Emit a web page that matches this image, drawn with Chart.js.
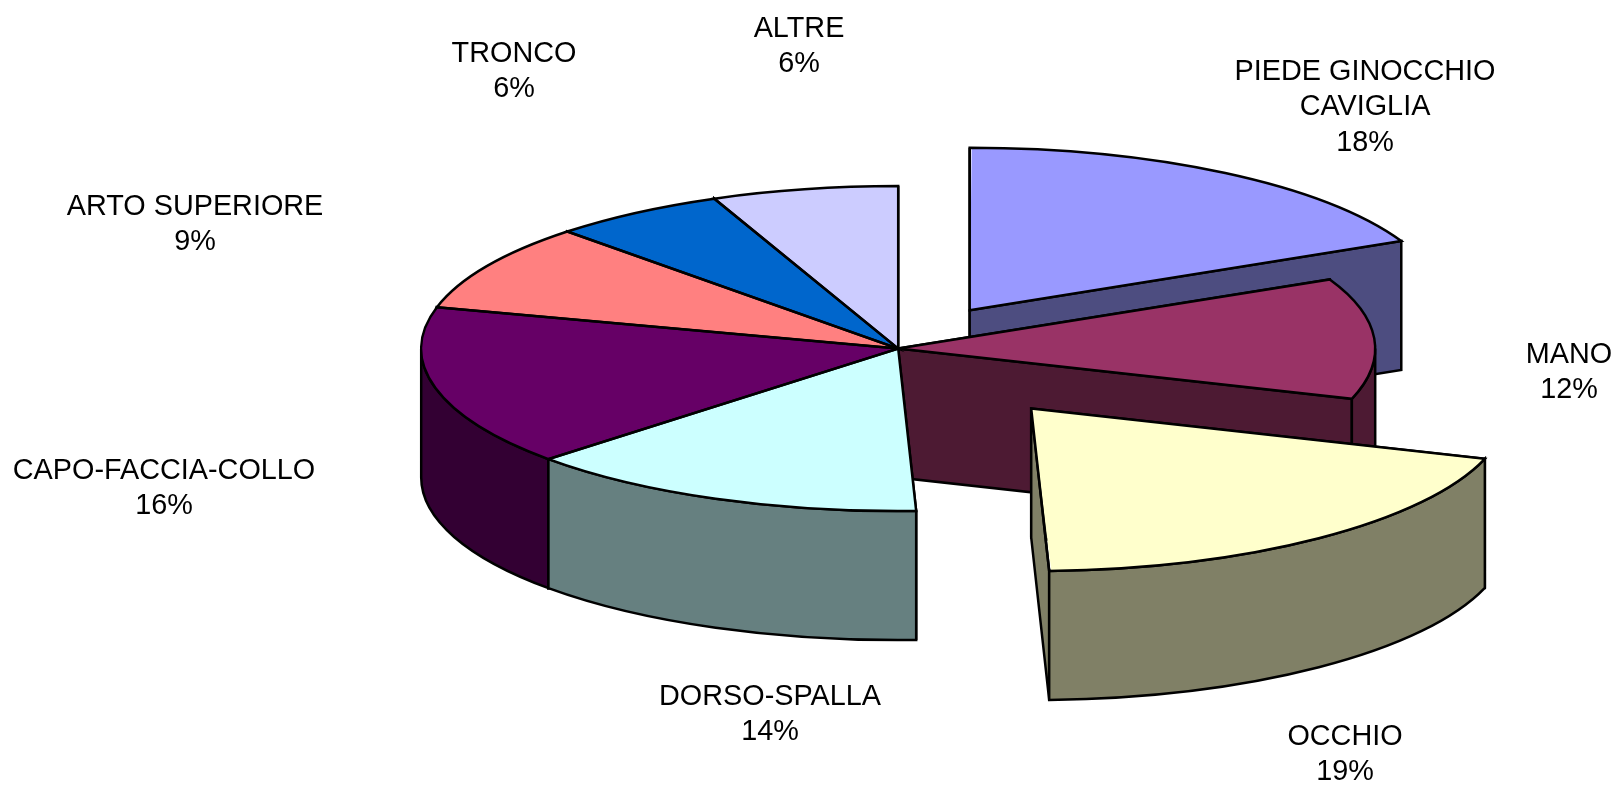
<!DOCTYPE html>
<html>
<head>
<meta charset="utf-8">
<style>html,body{margin:0;padding:0;background:#fff;overflow:hidden}canvas{display:block}</style>
<script src="https://cdn.jsdelivr.net/npm/chart.js@4"></script>
</head>
<body>
<canvas id="c" width="1617" height="795"></canvas>
<script>
// Data
const categories = [["PIEDE GINOCCHIO","CAVIGLIA"],["MANO"],["OCCHIO"],["DORSO-SPALLA"],["CAPO-FACCIA-COLLO"],["ARTO SUPERIORE"],["TRONCO"],["ALTRE"]];
const values = [18.0, 12.0, 19.4, 13.7, 16.0, 8.7, 5.9, 6.3];
// Styles
const topColors  = ["#9999FF","#993366","#FFFFCC","#CCFFFF","#660066","#FF8080","#0066CC","#CCCCFF"];
const sideColors = ["#4D4D80","#4D1A33","#808066","#668080","#330033","#804040","#003366","#666680"];
const explode = [231, 0, 382, 0, 0, 0, 0, 0];
const labelCenters = [[1365,72],[1569,355],[1345,737],[770,697],[164,471],[195,207],[514,54],[799,29]];
// Geometry of the tilted pie
const center = {x: 898.2, y: 348.6};
const radiusX = 477, tilt = 162.5/477, depth = 129;
const fontPx = 28.8, lineStep = 35.5, edgeWidth = 2.5;

function sliceGeom(arc, baseR){
  const k = radiusX/baseR;
  const t = (arc.options.offset||0)/4*k;
  const mid = (arc.startAngle+arc.endAngle)/2;
  return {a0:arc.startAngle, a1:arc.endAngle, mid,
    x:center.x + Math.cos(mid)*t, y:center.y + Math.sin(mid)*t*tilt,
    r:radiusX, ry:radiusX*tilt};
}
function outlineWall(ctx, draw, fill){
  ctx.beginPath(); draw(ctx); ctx.closePath();
  ctx.fillStyle = fill; ctx.fill();
  ctx.lineWidth = edgeWidth; ctx.strokeStyle = '#000'; ctx.lineJoin='miter'; ctx.stroke();
}
const pie3d = {
  id:'pie3d',
  beforeDatasetsDraw(chart){
    const ctx = chart.ctx;
    const meta = chart.getDatasetMeta(0);
    const arcs = meta.data, baseR = meta.controller.outerRadius;
    // The arc element grows an exploded slice a little; keep every slice at the common radius.
    arcs.forEach(a=>{
      const fix = 1 - Math.sin(Math.min(Math.PI, a.circumference||0));
      a.outerRadius = baseR - (a.options.offset||0)/4*fix;
    });
    const items = arcs.map((a,i)=>({g:sliceGeom(a,baseR),i}));
    items.sort((p,q)=>(p.g.y+Math.sin(p.g.mid)*p.g.ry*.6)-(q.g.y+Math.sin(q.g.mid)*q.g.ry*.6));
    for(const {g,i} of items){
      const col = sideColors[i];
      for(const a of [g.a0,g.a1]){
        const ex = g.x+Math.cos(a)*g.r, ey = g.y+Math.sin(a)*g.ry;
        outlineWall(ctx,c=>{c.moveTo(g.x,g.y);c.lineTo(ex,ey);c.lineTo(ex,ey+depth);c.lineTo(g.x,g.y+depth);},col);
      }
      // front-facing part of the rim
      for(const k of [0,2]){
        const s = Math.max(g.a0, k*Math.PI), e = Math.min(g.a1, (k+1)*Math.PI);
        if(e>s){
          outlineWall(ctx,c=>{
            c.ellipse(g.x,g.y,g.r,g.ry,0,s,e,false);
            c.ellipse(g.x,g.y+depth,g.r,g.ry,0,e,s,true);
          },col);
        }
      }
    }
    const a0 = arcs[0];
    ctx.save();
    ctx.translate(center.x, center.y);
    ctx.scale(radiusX/baseR, tilt*radiusX/baseR);
    ctx.translate(-a0.x, -a0.y);
  },
  afterDatasetsDraw(chart){
    const ctx = chart.ctx;
    ctx.restore();
    const meta = chart.getDatasetMeta(0);
    meta.data.forEach(a=>{
      const g = sliceGeom(a, meta.controller.outerRadius);
      ctx.beginPath();
      ctx.moveTo(g.x,g.y);
      ctx.ellipse(g.x,g.y,g.r,g.ry,0,g.a0,g.a1,false);
      ctx.closePath();
      ctx.lineWidth=edgeWidth; ctx.strokeStyle='#000'; ctx.lineJoin='miter'; ctx.stroke();
    });
    const total = values.reduce((s,v)=>s+v,0);
    ctx.fillStyle='#000';
    ctx.font = fontPx+'px "Liberation Sans", Arial, sans-serif';
    ctx.textAlign='center'; ctx.textBaseline='middle';
    categories.forEach((lines,i)=>{
      const rows = [...lines, Math.round(values[i]/total*100)+'%'];
      rows.forEach((t,j)=>ctx.fillText(t,labelCenters[i][0],labelCenters[i][1]+j*lineStep));
    });
  }
};
new Chart(document.getElementById('c').getContext('2d'),{
  type:'pie',
  data:{labels:categories.map(l=>l.join(' ')),datasets:[{
    data:values, backgroundColor:topColors, borderWidth:0, offset:explode, clip:false
  }]},
  options:{
    responsive:false, animation:false, events:[],
    layout:{padding:0},
    plugins:{legend:{display:false},tooltip:{enabled:false}}
  },
  plugins:[pie3d]
});
</script>
</body>
</html>
